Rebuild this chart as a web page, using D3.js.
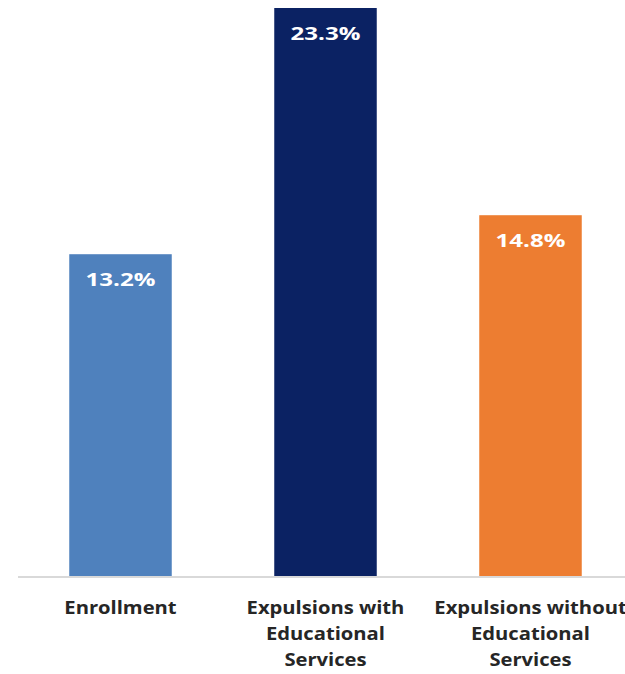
<!DOCTYPE html>
<html>
<head>
<meta charset="utf-8">
<script src="https://cdn.jsdelivr.net/npm/d3@7"></script>
<style>
  html, body { margin: 0; padding: 0; background: #ffffff; overflow: hidden; }
  svg { display: block; }
</style>
</head>
<body>
<script>
const categories = ["Enrollment", "Expulsions with Educational Services", "Expulsions without Educational Services"];
const categoryLines = [["Enrollment"], ["Expulsions with", "Educational", "Services"], ["Expulsions without", "Educational", "Services"]];
const values = [13.2, 23.3, 14.8];
const valueLabels = ["13.2%", "23.3%", "14.8%"];
const colors = ["#4f81bd", "#0b2263", "#ed7d31"];

const W = 625, H = 674;
const svg = d3.select("body").append("svg").attr("width", W).attr("height", H);

const x = d3.scaleBand().domain(categories).range([18, 633]).paddingInner(0.5).paddingOuter(0.25);
const y = d3.scaleLinear().domain([0, 23.3]).range([576, 8]);

svg.selectAll("rect.bar").data(values).enter().append("rect")
  .attr("class", "bar")
  .attr("x", (d, i) => x(categories[i]))
  .attr("width", x.bandwidth())
  .attr("y", d => y(d))
  .attr("height", d => y(0) - y(d))
  .attr("fill", (d, i) => colors[i]);

svg.append("line")
  .attr("x1", 18).attr("x2", W)
  .attr("y1", y(0) + 1).attr("y2", y(0) + 1)
  .attr("stroke", "#d9d9d9").attr("stroke-width", 2);

const FONT = "'Open Sans', sans-serif";

// horizontal stretch to mimic the wide rendering of the reference
function stretch(sel, sx) {
  sel.each(function() {
    const t = d3.select(this);
    const cx = +t.attr("x");
    t.attr("transform", `translate(${cx},0) scale(${sx},1) translate(${-cx},0)`);
  });
}

const vals = svg.selectAll("text.val").data(values).enter().append("text")
  .attr("class", "val")
  .attr("x", (d, i) => x(categories[i]) + x.bandwidth() / 2)
  .attr("y", d => y(d) + 32)
  .attr("text-anchor", "middle")
  .attr("fill", "#ffffff")
  .attr("font-family", FONT)
  .attr("font-weight", "bold")
  .attr("font-size", 18)
  .text((d, i) => valueLabels[i]);
const vw = vals.node().getComputedTextLength();
stretch(vals, 70 / vw);

const lab = svg.selectAll("text.cat").data(categories).enter().append("text")
  .attr("class", "cat")
  .attr("x", d => x(d) + x.bandwidth() / 2)
  .attr("y", 614)
  .attr("text-anchor", "middle")
  .attr("fill", "#262626")
  .attr("font-family", FONT)
  .attr("font-weight", "bold")
  .attr("font-size", 17.5);

lab.each(function(d, i) {
  const t = d3.select(this);
  categoryLines[i].forEach((line, j) => {
    t.append("tspan")
      .attr("x", x(d) + x.bandwidth() / 2)
      .attr("dy", j === 0 ? 0 : 26)
      .text(line);
  });
});
const firstLine = lab.filter((d, i) => i === 1).select("tspan").node().getComputedTextLength();
stretch(lab, 158 / firstLine);
</script>
</body>
</html>
